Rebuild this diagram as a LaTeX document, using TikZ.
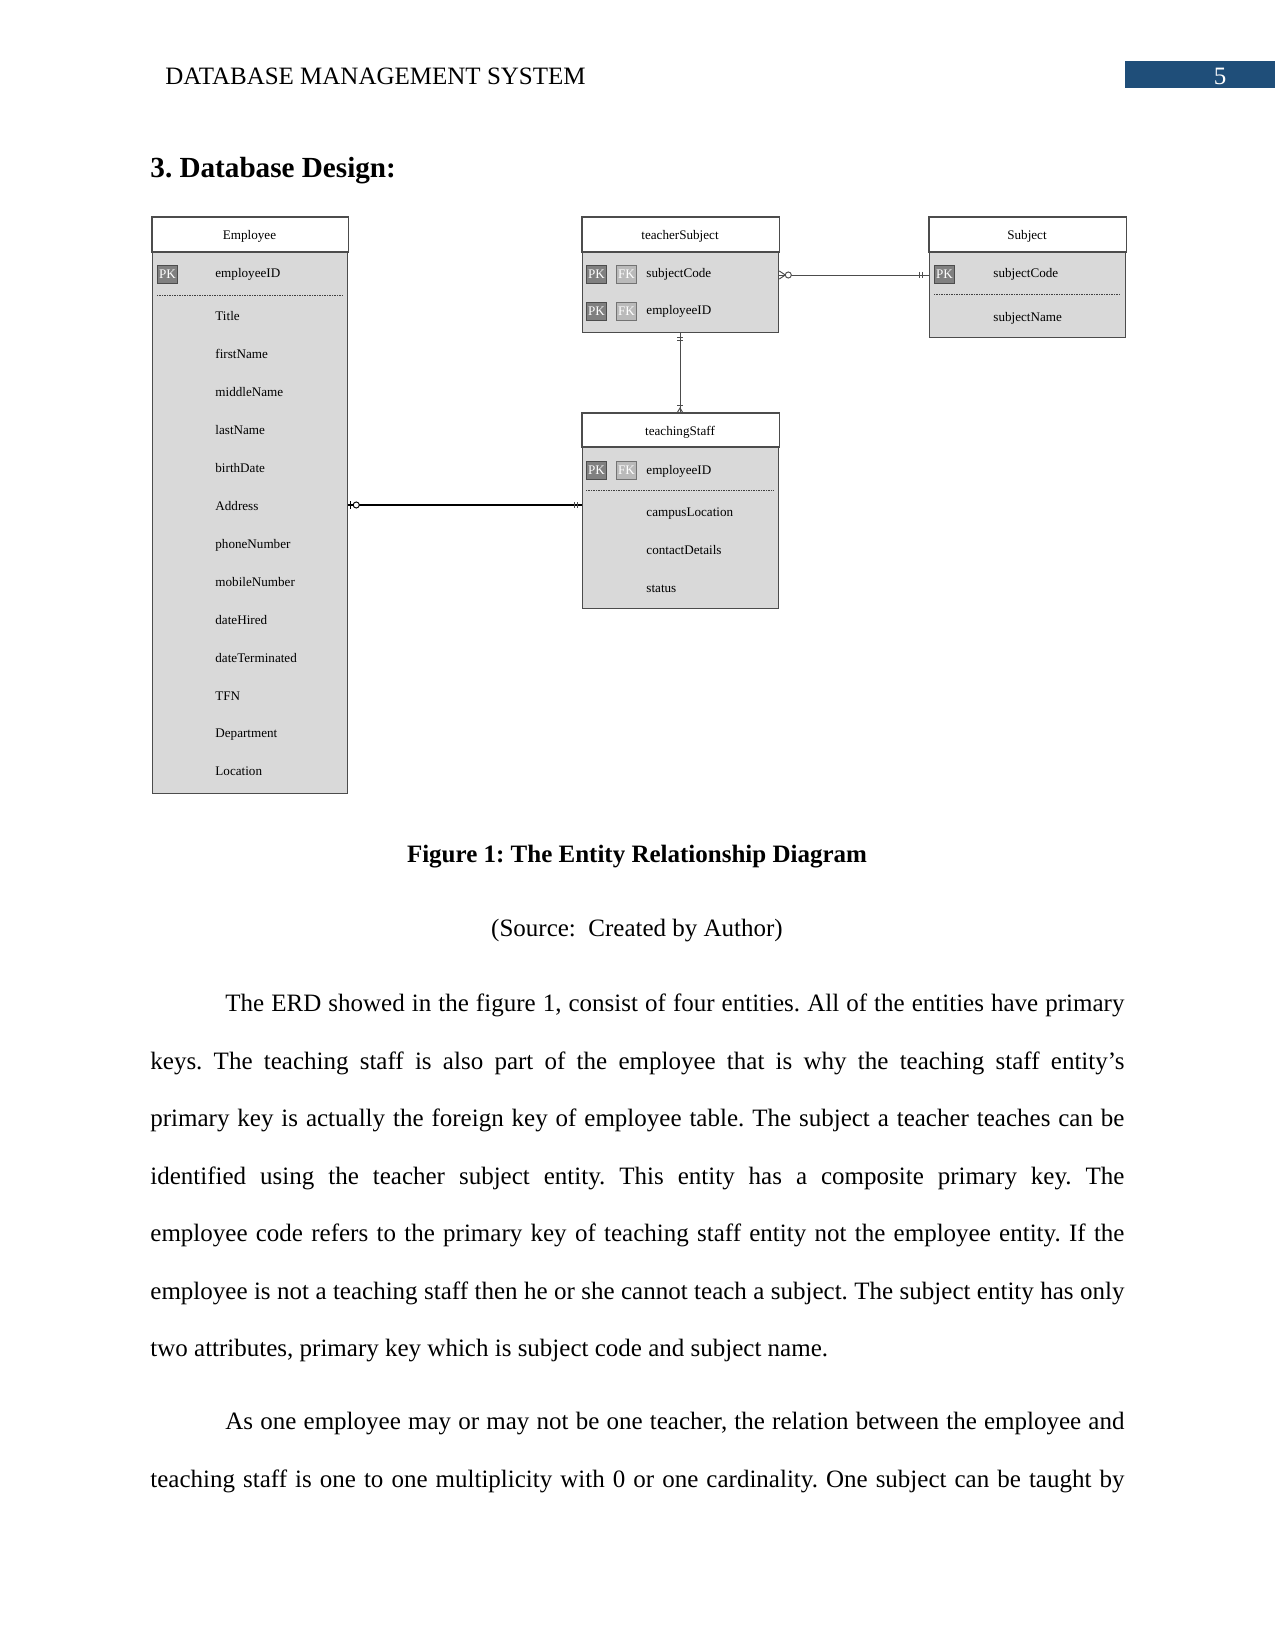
\documentclass[tikz,border=0pt]{standalone}
\usepackage{fontspec}
\setmainfont{Liberation Serif}
\usetikzlibrary{calc}
\definecolor{hdrblue}{HTML}{1F4E79}
\frenchspacing
\begin{document}
\begin{tikzpicture}[x=0.48pt,y=-0.48pt,
  ent/.style={draw=black!70, line width=0.6pt, fill=black!15, inner sep=0pt, anchor=north west},
  hdrfill/.style={fill=white, draw=black!70, line width=0.6pt},
  dfont/.style={font=\fontsize{6.3}{7}\selectfont},
  attr/.style={dfont, anchor=base west, inner sep=0pt},
  hdr/.style={dfont, anchor=base, inner sep=0pt},
  pkbox/.style={dfont, draw=black!70, line width=0.5pt, fill=black!50, text=white, minimum width=9.6pt, minimum height=8.6pt, inner sep=0pt, anchor=north west},
  fkbox/.style={pkbox, draw=black!55, fill=black!27},
  sepline/.style={black!75, line width=0.4pt, dash pattern=on 0.4pt off 0.4pt},
  conn/.style={black!70, line width=0.45pt},
  body/.style={anchor=base west, inner sep=0pt, font=\fontsize{12}{14}\selectfont}
]
\useasboundingbox (0,0) rectangle (1275,1650);
\fill[white] (0,0) rectangle (1275,1650);

% page header
\node[body] (runhead) at (165,84.5) {DATABASE MANAGEMENT SYSTEM};
\node[fill=hdrblue, minimum width=72pt, minimum height=12.96pt, inner sep=0pt, anchor=north west] (pgbox) at (1125,61) {};
\node[anchor=base, inner sep=0pt, text=white, font=\fontsize{12}{14}\selectfont] (pgnum) at (1220,84.5) {5};

% section heading
\node[anchor=base west, inner sep=0pt, font=\fontsize{14}{16}\bfseries\selectfont] (sect) at (150,178) {3. Database Design:};

% ---------- Employee ----------
\node[ent, minimum width=93.6pt, minimum height=276.5pt] (emp) at (152,217) {};
\draw[hdrfill] (emp.north west) rectangle ($(emp.north east)+(0,35)$);
\node[hdr] (empH) at (249.5,239.5) {Employee};
\node[pkbox] (empPK) at (157,265) {PK};
\node[attr] (empID) at (215,277.5) {employeeID};
\draw[sepline] (157,295) -- (343,295);
\foreach \t [count=\k from 0] in {Title,firstName,middleName,lastName,birthDate,Address,phoneNumber,mobileNumber,dateHired,dateTerminated,TFN,Department,Location}
  \node[attr] (e\k) at (215,{321+37.9*\k}) {\t};

% ---------- teacherSubject ----------
\node[ent, minimum width=94.1pt, minimum height=55.2pt] (tsub) at (582,217) {};
\draw[hdrfill] (tsub.north west) rectangle ($(tsub.north east)+(0,35)$);
\node[hdr] (tsubH) at (680,239.5) {teacherSubject};
\node[pkbox] (tsPK1) at (586,265) {PK};
\node[fkbox] (tsFK1) at (616,265) {FK};
\node[attr] (tsA1) at (646,277.5) {subjectCode};
\node[pkbox] (tsPK2) at (586,302) {PK};
\node[fkbox] (tsFK2) at (616,302) {FK};
\node[attr] (tsA2) at (646,314.5) {employeeID};

% ---------- Subject ----------
\node[ent, minimum width=94.1pt, minimum height=57.6pt] (subj) at (929,217) {};
\draw[hdrfill] (subj.north west) rectangle ($(subj.north east)+(0,35)$);
\node[hdr] (subjH) at (1027,239.5) {Subject};
\node[pkbox] (sbPK) at (934,265) {PK};
\node[attr] (sbA1) at (993,277.5) {subjectCode};
\draw[sepline] (934,294) -- (1120,294);
\node[attr] (sbA2) at (993,321.5) {subjectName};

% ---------- teachingStaff ----------
\node[ent, minimum width=94.1pt, minimum height=93.6pt] (ts) at (582,413) {};
\draw[hdrfill] (ts.north west) rectangle ($(ts.north east)+(0,34)$);
\node[hdr] (tsH) at (680,435.5) {teachingStaff};
\node[pkbox] (tgPK) at (586,461) {PK};
\node[fkbox] (tgFK) at (616,461) {FK};
\node[attr] (tgA1) at (646,474.5) {employeeID};
\draw[sepline] (586,490) -- (773,490);
\node[attr] (tgA2) at (646,516.5) {campusLocation};
\node[attr] (tgA3) at (646,554.5) {contactDetails};
\node[attr] (tgA4) at (646,592.5) {status};

% ---------- connectors ----------
\coordinate (c1) at (0,505);
\coordinate (c2) at (0,275);
\coordinate (c3) at (680,0);

% Employee -- teachingStaff
\draw[black, line width=0.5pt] (emp.east |- c1) -- (ts.west |- c1);
\draw[black, line width=0.45pt] ($(emp.east |- c1)+(2,-4)$) -- ($(emp.east |- c1)+(2,4)$);
\draw[black, line width=0.45pt, fill=white] ($(emp.east |- c1)+(8,0)$) circle[radius=1.45pt];
\draw[conn] ($(ts.west |- c1)+(-8,-3)$) -- ($(ts.west |- c1)+(-8,3)$);
\draw[conn] ($(ts.west |- c1)+(-5,-3)$) -- ($(ts.west |- c1)+(-5,3)$);

% teacherSubject -- Subject
\draw[conn] (tsub.east |- c2) -- (subj.west |- c2);
\draw[conn] ($(tsub.east |- c2)+(0,-4)$) -- ($(tsub.east |- c2)+(6,0)$) -- ($(tsub.east |- c2)+(0,4)$);
\draw[conn, fill=white] ($(tsub.east |- c2)+(9,0)$) circle[radius=1.45pt];
\draw[conn] ($(subj.west |- c2)+(-10,-3)$) -- ($(subj.west |- c2)+(-10,3)$);
\draw[conn] ($(subj.west |- c2)+(-7,-3)$) -- ($(subj.west |- c2)+(-7,3)$);

% teacherSubject -- teachingStaff
\draw[conn] (tsub.south -| c3) -- (ts.north -| c3);
\draw[conn] ($(tsub.south -| c3)+(-3,4)$) -- ($(tsub.south -| c3)+(3,4)$);
\draw[conn] ($(tsub.south -| c3)+(-3,7)$) -- ($(tsub.south -| c3)+(3,7)$);
\draw[conn] ($(ts.north -| c3)+(-3,-8)$) -- ($(ts.north -| c3)+(3,-8)$);
\draw[conn] ($(ts.north -| c3)+(-3,0)$) -- ($(ts.north -| c3)+(0,-5)$) -- ($(ts.north -| c3)+(3,0)$);

% ---------- caption ----------
\node[anchor=base, inner sep=0pt, font=\fontsize{12}{14}\bfseries\selectfont] (cap) at (637,862.5) {Figure 1: The Entity Relationship Diagram};
\node[anchor=base, inner sep=0pt, font=\fontsize{12}{14}\selectfont] (src) at (637,936.5) {(Source:\ \ Created by Author)};

% ---------- body text ----------
\node[body] (p1l1) at (225,1011.5) {\hbox to 431.52pt{The ERD showed in the figure 1, consist of four entities. All of the entities have primary}};
\node[body] (p1l2) at (150,1069) {\hbox to 467.52pt{keys. The teaching staff is also part of the employee that is why the teaching staff entity’s}};
\node[body] (p1l3) at (150,1126.5) {\hbox to 467.52pt{primary key is actually the foreign key of employee table. The subject a teacher teaches can be}};
\node[body] (p1l4) at (150,1184) {\hbox to 467.52pt{identified using the teacher subject entity. This entity has a composite primary key. The}};
\node[body] (p1l5) at (150,1241.5) {\hbox to 467.52pt{employee code refers to the primary key of teaching staff entity not the employee entity. If the}};
\node[body] (p1l6) at (150,1299) {\hbox to 467.52pt{employee is not a teaching staff then he or she cannot teach a subject. The subject entity has only}};
\node[body] (p1l7) at (150,1356.5) {two attributes, primary key which is subject code and subject name.};
\node[body] (p2l1) at (225,1429.5) {\hbox to 431.52pt{As one employee may or may not be one teacher, the relation between the employee and}};
\node[body] (p2l2) at (150,1487.5) {\hbox to 467.52pt{teaching staff is one to one multiplicity with 0 or one cardinality. One subject can be taught by}};
\end{tikzpicture}
\end{document}
